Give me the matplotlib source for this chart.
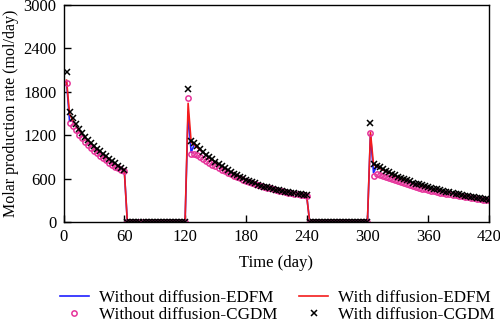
import numpy as np
import matplotlib
matplotlib.use("Agg")
import matplotlib.pyplot as plt

plt.rcParams['font.family'] = ['Liberation Serif', 'DejaVu Serif']
plt.rcParams['mathtext.fontset'] = 'stix'

# Time grid (day): 3-day steps, production / shut-in / production ...
t_p1 = np.arange(3, 61, 3)
t_off1 = np.arange(63, 121, 3)
t_p2 = np.arange(123, 241, 3)
t_off2 = np.arange(243, 301, 3)
t_p3 = np.arange(303, 421, 3)

# With diffusion-CGDM (x markers)
x_p1 = [2070, 1520, 1430, 1350, 1280, 1225, 1175, 1130, 1090, 1055,
        1015, 980, 945, 910, 875, 840, 810, 780, 750, 725]
x_p2 = [1834, 1124, 1085, 1045, 1005, 968, 932, 897, 864, 832,
        802, 773, 745, 718, 692, 668, 645, 623, 602, 583,
        565, 548, 532, 517, 503, 490, 478, 466, 455, 445,
        435, 426, 417, 409, 401, 394, 387, 380, 374, 368]
x_p3 = [1373, 805, 780, 755, 731, 708, 686, 665, 645, 626,
        608, 591, 575, 560, 545, 531, 518, 505, 493, 481,
        470, 459, 449, 439, 429, 420, 410, 400, 391, 382,
        373, 365, 357, 349, 341, 333, 326, 319, 312, 305]

# Without diffusion-CGDM (circles)
c_p1 = [1925, 1370, 1325, 1265, 1205, 1155, 1105, 1062, 1022, 985,
        950, 915, 882, 850, 820, 792, 766, 742, 722, 705]
c_p2 = [1719, 945, 940, 920, 895, 868, 842, 817, 792, 768,
        745, 722, 700, 679, 659, 640, 621, 603, 586, 570,
        554, 539, 525, 511, 498, 486, 474, 463, 452, 442,
        432, 423, 414, 406, 398, 391, 384, 377, 371, 365]
c_p3 = [1230, 630, 660, 650, 636, 620, 604, 589, 574, 560,
        546, 533, 520, 507, 495, 484, 473, 462, 452, 442,
        433, 424, 415, 406, 398, 390, 382, 375, 368, 361,
        354, 347, 341, 334, 328, 322, 316, 310, 304, 298]

# With diffusion-EDFM (red line)
r_p1 = [1960, 1490, 1410, 1335, 1268, 1212, 1162, 1118, 1078, 1042,
        1004, 970, 936, 902, 868, 834, 804, 775, 746, 722]
r_p2 = [1640, 1105, 1068, 1030, 992, 956, 921, 887, 855, 824,
        795, 767, 740, 714, 689, 665, 642, 620, 600, 581,
        563, 546, 530, 515, 501, 488, 476, 464, 453, 443,
        433, 424, 415, 407, 399, 392, 385, 378, 372, 366]
r_p3 = [1240, 790, 768, 744, 721, 699, 678, 658, 638, 620,
        602, 586, 570, 555, 541, 527, 514, 502, 490, 478,
        467, 456, 446, 436, 426, 417, 407, 398, 389, 380,
        372, 363, 355, 347, 339, 331, 324, 317, 310, 303]

# Without diffusion-EDFM (blue line): differs from red just after each restart
b_p1_head = [1940, 1390]
b_p2_head = [1520, 960]
b_p3_head = [1210, 680]

off = [0] * 20

t = np.concatenate([t_p1, t_off1, t_p2, t_off2, t_p3])
with_cgdm = np.array(x_p1 + off + x_p2 + off + x_p3)
without_cgdm = np.array(c_p1 + off + c_p2 + off + c_p3)
with_edfm = np.array(r_p1 + off + r_p2 + off + r_p3)
without_edfm = np.array(b_p1_head + r_p1[2:] + off + b_p2_head + r_p2[2:]
                        + off + b_p3_head + r_p3[2:])

fig = plt.figure(figsize=(5, 3.25), dpi=100)
ax = fig.add_axes([0.127, 0.317, 0.851, 0.668])

l1, = ax.plot(t, without_edfm, color='#1f1fff', lw=1.2, label='Without diffusion-EDFM')
l2, = ax.plot(t, with_edfm, color='#f41c1c', lw=1.2, label='With diffusion-EDFM')
m1, = ax.plot(t, without_cgdm, linestyle='none', marker='o', markersize=3.8,
              markerfacecolor='none', markeredgecolor='#e6339a', markeredgewidth=1.1,
              label='Without diffusion-CGDM')
m2, = ax.plot(t, with_cgdm, linestyle='none', marker='x', markersize=4.3,
              color='black', markeredgewidth=1.1, label='With diffusion-CGDM')

ax.set_xlim(0, 420)
ax.set_ylim(0, 3000)
ax.set_xticks(np.arange(0, 421, 60))
ax.set_yticks(np.arange(0, 3001, 600))
ax.tick_params(direction='in', length=5, width=1, labelsize=12, pad=5)
for s in ax.spines.values():
    s.set_linewidth(1)
ax.set_xlabel('Time (day)', fontsize=12, labelpad=7)
ax.set_ylabel('Molar production rate (mol/day)', fontsize=11.5, labelpad=3)

fig.legend(handles=[l1, m1, l2, m2], loc='center', bbox_to_anchor=(0.555, 0.058),
           ncol=2, frameon=False, fontsize=12.3, handlelength=1.65,
           columnspacing=1.3, handletextpad=0.6, labelspacing=0.05)

fig.savefig('out.png', dpi=100)
